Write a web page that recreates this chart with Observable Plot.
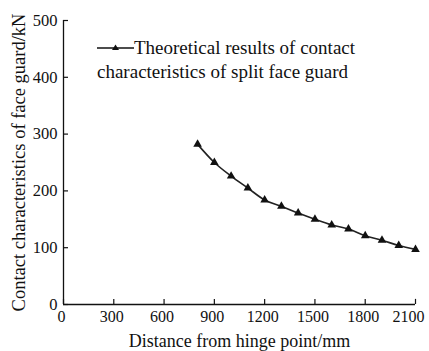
<!DOCTYPE html>
<html>
<head>
<meta charset="utf-8">
<script src="https://cdn.jsdelivr.net/npm/d3@7"></script>
<script src="https://cdn.jsdelivr.net/npm/@observablehq/plot@0.6"></script>
<style>
  html, body { margin: 0; padding: 0; background: #fff; }
  #wrap { position: relative; width: 429px; height: 351px; overflow: hidden; font-family: "Times New Roman", "Liberation Serif", "DejaVu Serif", serif; }
  #legend { position: absolute; left: 97px; top: 36px; font-size: 19px; color: #111; line-height: 24px; white-space: nowrap; }
  #legsym { position: absolute; left: 97px; top: 42px; }
  #chart svg, #chart svg text { font-family: "Times New Roman", "Liberation Serif", "DejaVu Serif", serif !important; }
</style>
</head>
<body>
<div id="wrap">
  <div id="chart"></div>
  <svg id="legsym" width="38" height="12"><line x1="0" x2="37" y1="6" y2="6" stroke="#111" stroke-width="1.3"/><path d="M18.5,2.5 L22,8 L15,8 Z" fill="#111"/></svg>
  <div id="legend"><span style="padding-left:37px">Theoretical results of contact</span><br>characteristics of split face guard</div>
</div>
<script>
const distance = [800, 900, 1000, 1100, 1200, 1300, 1400, 1500, 1600, 1700, 1800, 1900, 2000, 2100];
const force = [282, 250, 226, 205, 184, 173, 161, 150, 140, 133, 121, 113, 104, 97];
const xTicks = [0, 300, 600, 900, 1200, 1500, 1800, 2100];
const yTicks = [0, 100, 200, 300, 400, 500];
const xTitle = "Distance from hinge point/mm";
const yTitle = "Contact characteristics of face guard/kN";

const data = distance.map((d, i) => ({distance: d, force: force[i]}));
const xLast = xTicks[xTicks.length - 1];

const chart = Plot.plot({
  width: 429,
  height: 351,
  marginLeft: 63,
  marginRight: 14,
  marginTop: 20,
  marginBottom: 47,
  style: {fontSize: "16px", color: "#111", background: "#fff", overflow: "visible"},
  x: {domain: [0, 2100]},
  y: {domain: [0, 500]},
  marks: [
    Plot.axisX({ticks: xTicks.slice(0, -1), tickFormat: d => String(d), tickSize: 0, tickPadding: 6, dx: -2, fontSize: 16, label: null}),
    Plot.axisX({ticks: [xLast], tickFormat: d => String(d), tickSize: 0, tickPadding: 6, dx: -7, fontSize: 16, label: null}),
    Plot.axisX({ticks: [], tickSize: 0, fontSize: 18, label: xTitle, labelAnchor: "center", labelArrow: "none", labelOffset: 42}),
    Plot.axisY({ticks: yTicks, tickFormat: d => String(d), tickSize: 0, tickPadding: 6, fontSize: 16.5, label: null}),
    Plot.axisY({ticks: [], tickSize: 0, fontSize: 18.5, label: yTitle, labelAnchor: "center", labelArrow: "none", labelOffset: 52}),
    Plot.ruleX(xTicks, {x: d => d, y1: 0, y2: 9, stroke: "#111", strokeWidth: 1.2}),
    Plot.ruleY(yTicks, {y: d => d, x1: 0, x2: 30, stroke: "#111", strokeWidth: 1.2}),
    Plot.ruleY([0], {stroke: "#111", strokeWidth: 1.3}),
    Plot.ruleX([0], {stroke: "#111", strokeWidth: 1.3}),
    Plot.line(data, {x: "distance", y: "force", stroke: "#222", strokeWidth: 1.6, curve: "monotone-x"}),
    Plot.dot(data, {x: "distance", y: "force", symbol: "triangle", r: 3.2, fill: "#111", stroke: "none"})
  ]
});
document.getElementById("chart").appendChild(chart);
</script>
</body>
</html>
